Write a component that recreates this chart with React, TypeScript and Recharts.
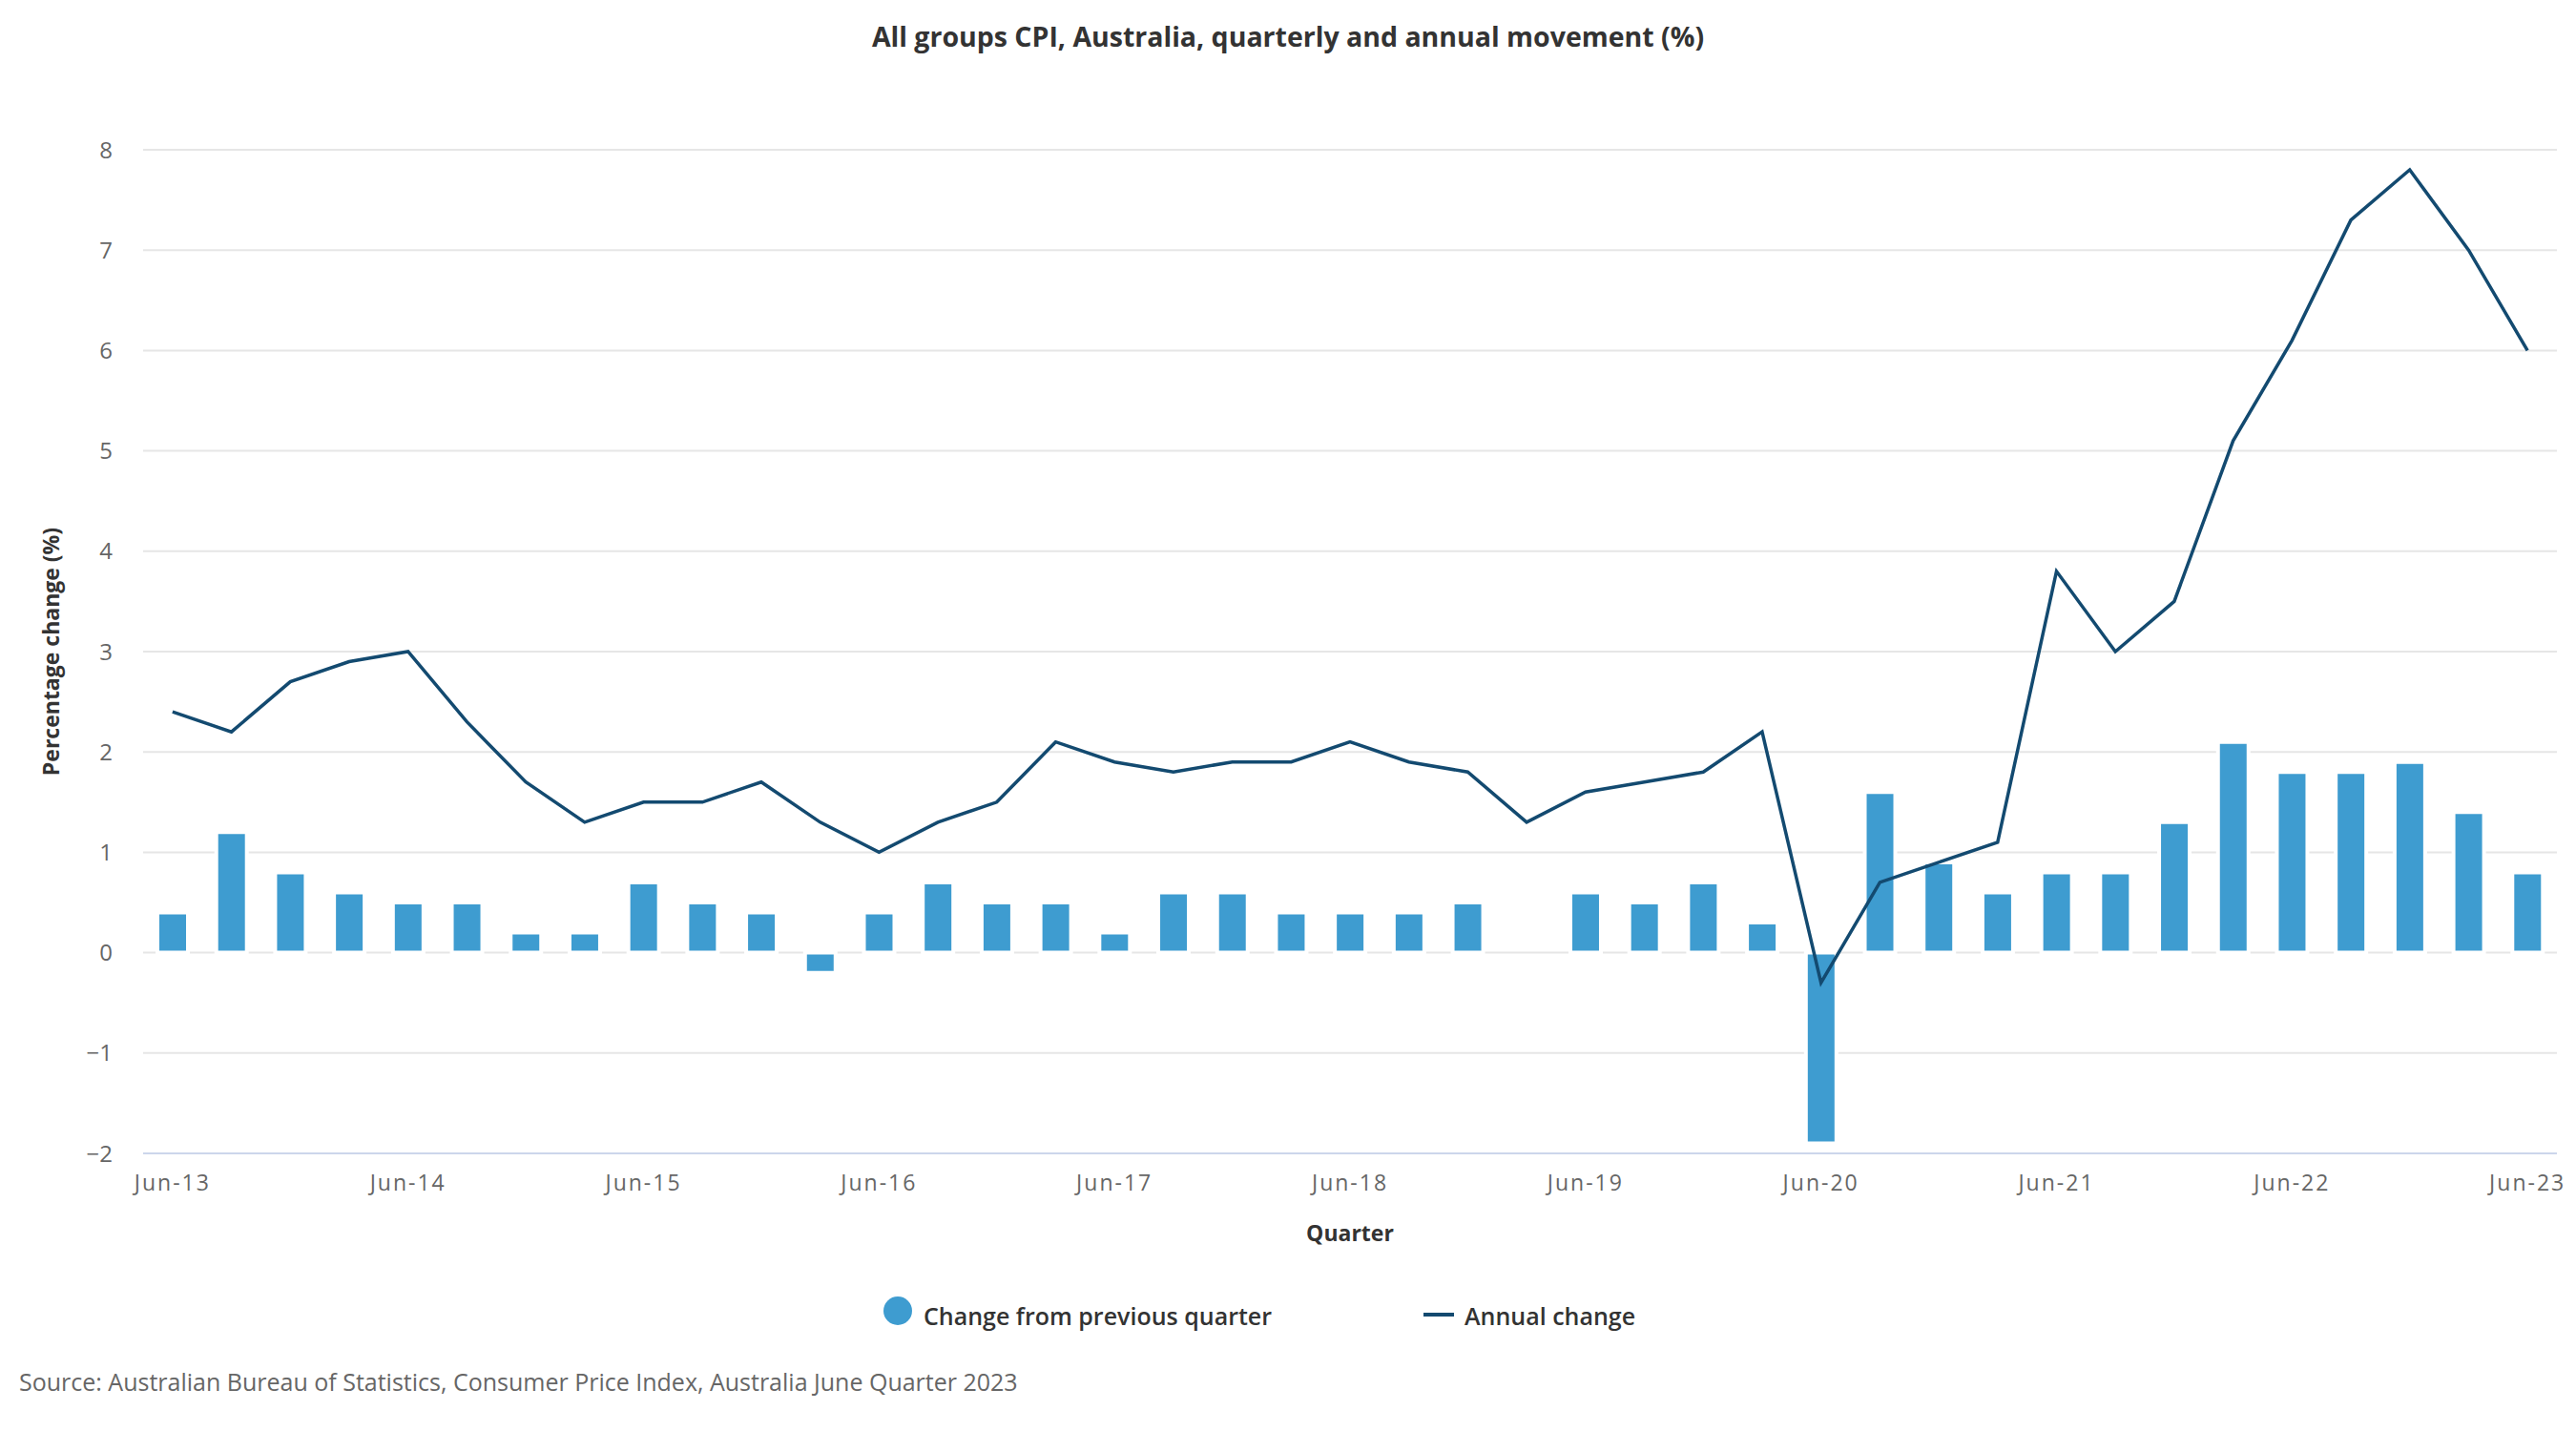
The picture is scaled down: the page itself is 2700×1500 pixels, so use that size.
import { ComposedChart, Bar, Line, XAxis, YAxis, CartesianGrid } from 'recharts';

const quarters = [
  'Jun-13', 'Sep-13', 'Dec-13', 'Mar-14', 'Jun-14', 'Sep-14', 'Dec-14', 'Mar-15',
  'Jun-15', 'Sep-15', 'Dec-15', 'Mar-16', 'Jun-16', 'Sep-16', 'Dec-16', 'Mar-17',
  'Jun-17', 'Sep-17', 'Dec-17', 'Mar-18', 'Jun-18', 'Sep-18', 'Dec-18', 'Mar-19',
  'Jun-19', 'Sep-19', 'Dec-19', 'Mar-20', 'Jun-20', 'Sep-20', 'Dec-20', 'Mar-21',
  'Jun-21', 'Sep-21', 'Dec-21', 'Mar-22', 'Jun-22', 'Sep-22', 'Dec-22', 'Mar-23',
  'Jun-23',
];

// change from previous quarter (%)
const quarterlyChange = [
  0.4, 1.2, 0.8, 0.6, 0.5, 0.5, 0.2, 0.2,
  0.7, 0.5, 0.4, -0.2, 0.4, 0.7, 0.5, 0.5,
  0.2, 0.6, 0.6, 0.4, 0.4, 0.4, 0.5, 0.0,
  0.6, 0.5, 0.7, 0.3, -1.9, 1.6, 0.9, 0.6,
  0.8, 0.8, 1.3, 2.1, 1.8, 1.8, 1.9, 1.4,
  0.8,
];

// annual change (%)
const annualChange = [
  2.4, 2.2, 2.7, 2.9, 3.0, 2.3, 1.7, 1.3,
  1.5, 1.5, 1.7, 1.3, 1.0, 1.3, 1.5, 2.1,
  1.9, 1.8, 1.9, 1.9, 2.1, 1.9, 1.8, 1.3,
  1.6, 1.7, 1.8, 2.2, -0.3, 0.7, 0.9, 1.1,
  3.8, 3.0, 3.5, 5.1, 6.1, 7.3, 7.8, 7.0,
  6.0,
];

const yTicks = [-2, -1, 0, 1, 2, 3, 4, 5, 6, 7, 8];

const title = 'All groups CPI, Australia, quarterly and annual movement (%)';
const yTitle = 'Percentage change (%)';
const xTitle = 'Quarter';
const seriesNames = ['Change from previous quarter', 'Annual change'];
const source = 'Source: Australian Bureau of Statistics, Consumer Price Index, Australia June Quarter 2023';

const BAR_COLOR = '#3E9CD0';
const LINE_COLOR = '#134A70';
const FONT = "'Open Sans', sans-serif";

const data = quarters.map((q, i) => ({
  quarter: q,
  quarterly: quarterlyChange[i],
  annual: annualChange[i],
}));

// highcharts-style minus sign on the value axis
const fmtY = (v: number) => String(v).replace('-', '\u2212');

export default function App() {
  return (
    <div style={{ position: 'absolute', left: 0, top: 0, width: 2700, height: 1500, background: '#fff', fontFamily: FONT }}>
      <ComposedChart width={2700} height={1500} data={data} margin={{ top: 157, right: 20, bottom: 231, left: 0 }}>
        <CartesianGrid vertical={false} stroke="#e6e6e6" strokeWidth={2} />
        <XAxis
          dataKey="quarter"
          interval={3}
          height={60}
          tickLine={false}
          tickSize={0}
          tickMargin={23}
          axisLine={{ stroke: '#ccd6eb', strokeWidth: 2 }}
          tick={{ fill: '#666', fontSize: 23, fontFamily: FONT, letterSpacing: 2 }}
        />
        <YAxis
          width={150}
          domain={[-2, 8]}
          ticks={yTicks}
          interval={0}
          axisLine={false}
          tickLine={false}
          tickSize={0}
          tickMargin={32}
          tickFormatter={fmtY}
          tick={{ fill: '#666', fontSize: 24, fontFamily: FONT }}
        />
        <Bar dataKey="quarterly" fill={BAR_COLOR} barSize={32} stroke="#fff" strokeWidth={4} isAnimationActive={false} />
        <Line dataKey="annual" type="linear" stroke={LINE_COLOR} strokeWidth={3.5} dot={false} activeDot={false} isAnimationActive={false} />
      </ComposedChart>

      <svg width={2700} height={1500} style={{ position: 'absolute', left: 0, top: 0, pointerEvents: 'none' }} fontFamily={FONT}>
        <text x={1350} y={49} textAnchor="middle" fontSize={28.5} fontWeight={700} fill="#333">{title}</text>
        <text transform="translate(62,683) rotate(-90)" textAnchor="middle" fontSize={23} fontWeight={700} fill="#333">{yTitle}</text>
        <text x={1415} y={1301} textAnchor="middle" fontSize={23} fontWeight={700} fill="#333">{xTitle}</text>

        <circle cx={941} cy={1374} r={15} fill={BAR_COLOR} />
        <text x={968} y={1389} fontSize={25} fontWeight={600} fill="#333">{seriesNames[0]}</text>
        <rect x={1492} y={1376} width={32} height={4} fill={LINE_COLOR} />
        <text x={1535} y={1389} fontSize={25} fontWeight={600} fill="#333">{seriesNames[1]}</text>

        <text x={20} y={1458} fontSize={25} fill="#666">{source}</text>
      </svg>
    </div>
  );
}
